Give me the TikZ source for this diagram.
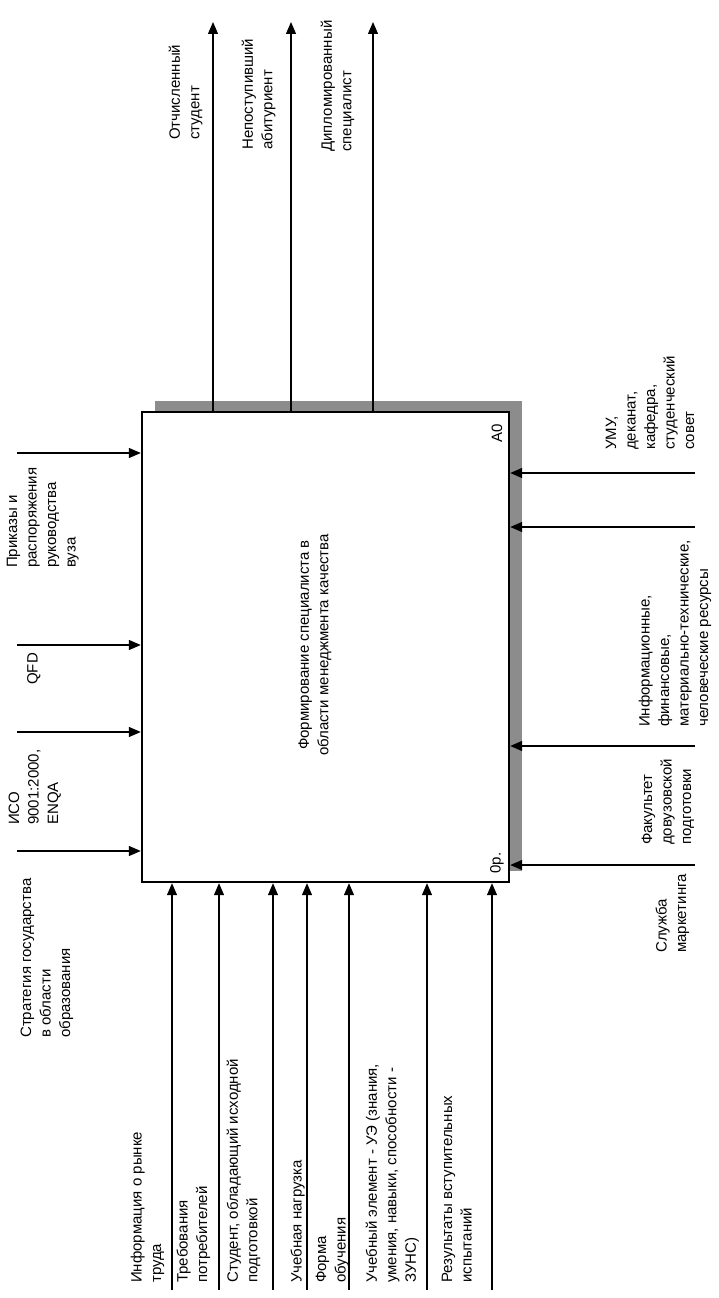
\documentclass[tikz,border=0pt]{standalone}
\usepackage{fontspec}
\setmainfont{Liberation Sans}
\usetikzlibrary{arrows.meta}
\begin{document}
\begin{tikzpicture}[x=1pt,y=-1pt,
  lbl/.style={rotate=90,anchor=north west,align=left,inner sep=0pt,
    font=\fontsize{15}{19.5}\selectfont},
  ctr/.style={rotate=90,align=center,inner sep=0pt,
    font=\fontsize{15}{19.5}\selectfont},
  arr/.style={line width=1.3pt,-{Triangle[length=12pt,width=10pt]}},
  shadowbox/.style={fill=black!45,draw=none},
  mainbox/.style={draw,line width=2.4pt,fill=white,minimum width=367pt,
    minimum height=470pt,inner sep=0pt}]
\useasboundingbox (0,0) rectangle (718,1298);
\fill[white] (0,0) rectangle (718,1298);
% shadow and box
\fill[shadowbox] (155,401) rectangle (522,871);
\node[mainbox] (box) at (325.5,647) {};
\node[ctr] (title) at (315,645) {Формирование специалиста в\\области менеджмента качества};
\node[ctr] (a0) at (497,433) {A0};
\node[ctr] (op) at (497,863) {0р.};
% left inputs
\coordinate (i1) at (17,453);
\coordinate (i2) at (17,645);
\coordinate (i3) at (17,732);
\coordinate (i4) at (17,851);
\foreach \c in {i1,i2,i3,i4} \draw[arr] (\c) -- (\c -| box.west);
\node[lbl] (li1) at (6.5,568) {Приказы и\\распоряжения\\руководства\\вуза};
\node[lbl] (li2) at (27,685) {QFD};
\node[lbl] (li3) at (8.5,825) {ИСО\\9001:2000,\\ENQA};
\node[lbl] (li4) at (20.5,1038) {Стратегия государства\\в области\\образования};
% bottom arrows
\coordinate (b1) at (172,1290);
\coordinate (b2) at (219,1290);
\coordinate (b3) at (273,1290);
\coordinate (b4) at (307,1290);
\coordinate (b5) at (349,1290);
\coordinate (b6) at (427,1290);
\coordinate (b7) at (492,1290);
\foreach \c in {b1,b2,b3,b4,b5,b6,b7} \draw[arr] (\c) -- (\c |- box.south);
\node[lbl] (lb1) at (130.5,1283) {Информация о рынке\\труда};
\node[lbl] (lb2) at (176.5,1283) {Требования\\потребителей};
\node[lbl] (lb3) at (226.5,1283) {Студент, обладающий исходной\\подготовкой};
\node[lbl] (lb4) at (290.5,1283) {Учебная нагрузка};
\node[lbl] (lb5) at (315.5,1283) {Форма\\обучения};
\node[lbl] (lb6) at (365.5,1283) {Учебный элемент - УЭ (знания,\\умения, навыки, способности -\\ЗУНС)};
\node[lbl] (lb7) at (441.5,1283) {Результаты вступительных\\испытаний};
% outputs
\coordinate (o1) at (213,22);
\coordinate (o2) at (291,22);
\coordinate (o3) at (373,22);
\foreach \c in {o1,o2,o3} \draw[arr] (\c |- box.north) -- (\c);
\node[lbl] (lo1) at (168.5,140) {Отчисленный\\студент};
\node[lbl] (lo2) at (241.5,150) {Непоступивший\\абитуриент};
\node[lbl] (lo3) at (320.5,152) {Дипломированный\\специалист};
% mechanisms
\coordinate (m1) at (695,473);
\coordinate (m2) at (695,527);
\coordinate (m3) at (695,746);
\coordinate (m4) at (695,865);
\foreach \c in {m1,m2,m3,m4} \draw[arr] (\c) -- (\c -| box.east);
\node[lbl] (lm1) at (605.5,450) {УМУ,\\деканат,\\кафедра,\\студенческий\\совет};
\node[lbl] (lm2) at (638.5,727) {Информационные,\\финансовые,\\материально-технические,\\человеческие ресурсы};
\node[lbl] (lm3) at (641.5,845) {Факультет\\довузовской\\подготовки};
\node[lbl] (lm4) at (655.5,953) {Служба\\маркетинга};
\end{tikzpicture}
\end{document}
